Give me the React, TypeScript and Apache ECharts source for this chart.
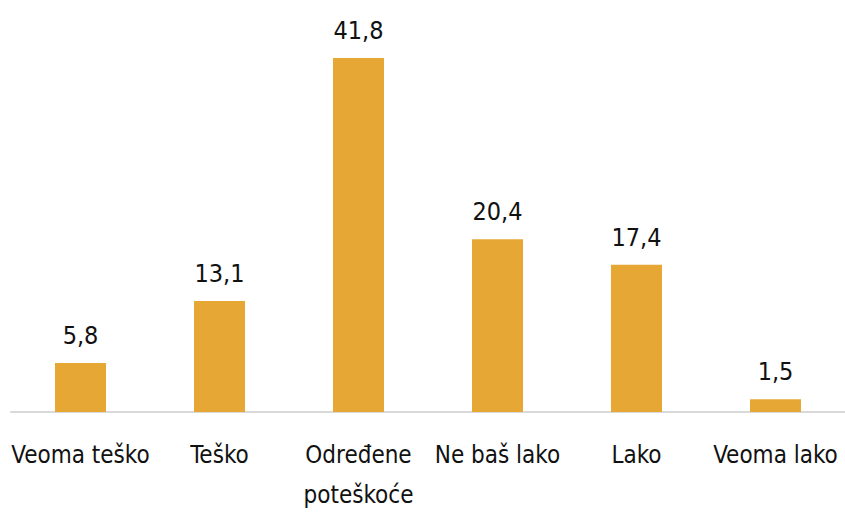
import React, { useEffect, useRef } from "react";
import * as echarts from "echarts";

const categories = ["Veoma teško", "Teško", "Određene\npoteškoće", "Ne baš lako", "Lako", "Veoma lako"];
const values = [5.8, 13.1, 41.8, 20.4, 17.4, 1.5];

const FONT = "'DejaVu Sans Condensed', sans-serif";

export default function App() {
  const ref = useRef<HTMLDivElement>(null);
  useEffect(() => {
    const chart = echarts.init(ref.current!, null, { renderer: "svg" });
    chart.setOption({
      animation: false,
      grid: { left: 11, width: 838, top: 31, bottom: 93, containLabel: false },
      xAxis: {
        type: "category",
        data: categories,
        axisLine: { lineStyle: { color: "#D9D9D9", width: 2 } },
        axisTick: { show: false },
        axisLabel: {
          color: "#111",
          fontFamily: FONT,
          fontSize: 24,
          margin: 23,
          lineHeight: 40,
          interval: 0,
        },
      },
      yAxis: { type: "value", min: 0, max: 45, show: false, splitLine: { show: false } },
      series: [
        {
          type: "bar",
          data: values,
          barWidth: 51,
          itemStyle: { color: "#E7A735" },
          label: {
            show: true,
            position: "top",
            distance: 15,
            color: "#111",
            fontFamily: FONT,
            fontSize: 25,
            formatter: (p: any) => String(p.value).replace(".", ","),
          },
        },
      ],
    });
    return () => chart.dispose();
  }, []);
  return (
    <div
      ref={ref}
      style={{ position: "fixed", left: 0, top: 0, width: 845, height: 515, background: "#fff" }}
    />
  );
}
